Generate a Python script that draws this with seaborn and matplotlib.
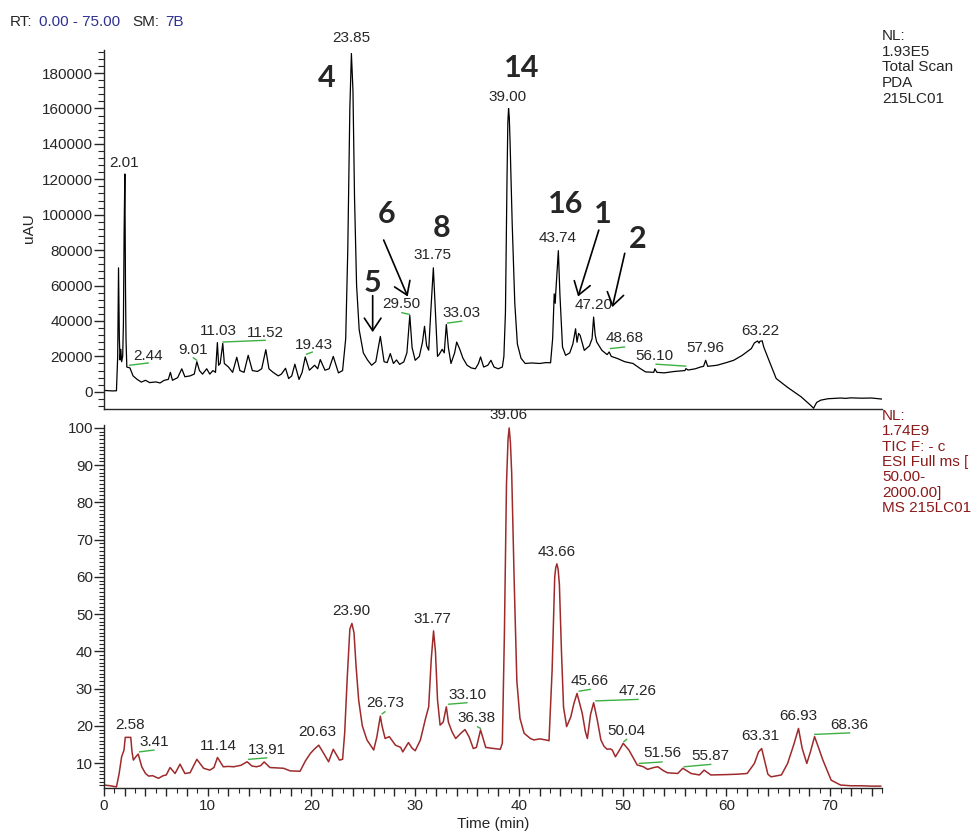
import numpy as np
import pandas as pd
import matplotlib.pyplot as plt
import seaborn as sns
from matplotlib.ticker import MultipleLocator, FuncFormatter

# Trace PDA (panneau du haut), temps en min / intensité en uAU
pda_time = [0.0, 0.8, 1.2, 1.32, 1.4, 1.48, 1.55, 1.62, 1.7, 1.8, 1.87, 1.94, 2.01, 2.07, 2.12, 2.2,
            2.5, 2.8, 3.2, 3.6, 4.0, 4.4, 5.0, 5.4, 5.8, 6.2, 6.4, 6.6, 7.1, 7.5, 7.8, 8.3, 8.7, 8.95,
            9.2, 9.5, 9.9, 10.2, 10.5, 10.75, 10.93, 11.05, 11.2, 11.45, 11.6, 12.0, 12.4, 12.8, 13.1,
            13.5, 13.9, 14.3, 14.8, 15.2, 15.6, 15.9, 16.3, 16.8, 17.1, 17.5, 17.8, 18.1, 18.4, 18.8,
            19.1, 19.4, 19.8, 20.3, 20.6, 20.85, 21.3, 21.7, 22.1, 22.6, 23.0, 23.3, 23.5, 23.7, 23.85,
            24.0, 24.15, 24.35, 24.6, 25.0, 25.4, 25.8, 26.2, 26.64, 27.0, 27.3, 27.6, 27.9, 28.2, 28.5,
            28.9, 29.2, 29.48, 29.7, 30.0, 30.4, 30.7, 30.9, 31.1, 31.3, 31.5, 31.75, 31.95, 32.15, 32.3,
            32.6, 32.8, 33.0, 33.2, 33.45, 33.8, 34.0, 34.3, 34.6, 35.0, 35.4, 35.8, 36.1, 36.3, 36.6,
            37.0, 37.3, 37.6, 38.0, 38.4, 38.55, 38.7, 38.85, 38.93, 39.0, 39.07, 39.15, 39.35, 39.6,
            39.85, 40.2, 40.6, 41.2, 42.0, 42.6, 43.05, 43.25, 43.4, 43.5, 43.55, 43.8, 43.95, 44.2,
            44.5, 44.9, 45.2, 45.46, 45.6, 45.75, 45.9, 46.3, 46.8, 47.05, 47.2, 47.35, 47.5, 48.0, 48.5,
            48.7, 48.9, 49.5, 50.2, 51.0, 51.6, 52.2, 53.0, 53.1, 53.3, 54.0, 55.0, 56.0, 56.1, 56.3,
            57.0, 57.5, 57.8, 58.0, 58.2, 59.1, 60.0, 60.7, 61.5, 62.4, 62.7, 63.0, 63.15, 63.22, 63.45,
            63.6, 64.1, 64.8, 65.9, 67.2, 68.1, 68.4, 68.7, 69.1, 69.8, 71.0, 71.5, 72.0, 73.0, 74.0,
            75.0]
pda_uau = [800, 500, 600, 20000, 70000, 30000, 18000, 24000, 17000, 20000, 38000, 90000, 123000, 60000,
           30000, 14000, 13500, 9000, 7000, 5500, 6500, 5200, 5600, 5000, 6500, 7000, 11000, 6500, 8000,
           13000, 8500, 9000, 10000, 17000, 12000, 10000, 13000, 10000, 12000, 11000, 27800, 15000,
           16000, 27300, 16000, 14000, 11000, 19500, 12000, 11000, 20600, 12000, 11500, 13000, 23800,
           13000, 11000, 9000, 10000, 13300, 7500, 9000, 15600, 7000, 11000, 19700, 12200, 15000, 13000,
           18200, 12200, 13000, 20000, 10700, 12000, 30000, 80000, 160000, 191000, 170000, 110000,
           60000, 35000, 22000, 18000, 15000, 17000, 31300, 17000, 16500, 21600, 16000, 18000, 15500,
           16900, 22000, 43100, 25000, 17800, 20000, 28000, 37000, 26000, 23500, 45000, 70000, 45000,
           20000, 21000, 24000, 22000, 38000, 25000, 16000, 22000, 28100, 24000, 19000, 15000, 13500,
           13000, 16000, 19700, 14000, 15000, 17800, 14000, 13000, 14000, 20000, 45000, 120000, 152000,
           160000, 155000, 140000, 95000, 50000, 27000, 19000, 16000, 16300, 16000, 16500, 16400, 30000,
           55300, 50000, 56000, 79700, 55000, 25300, 20600, 22000, 27000, 35600, 28000, 33000, 31900,
           23400, 26000, 30000, 42200, 32000, 28100, 23400, 21000, 22500, 20000, 18800, 17000, 16000,
           13500, 11250, 11000, 13000, 11000, 10700, 11500, 12000, 13100, 12300, 13000, 14000, 14400,
           17800, 14400, 15000, 16500, 17800, 20500, 24400, 27600, 28700, 27500, 28500, 28800, 25300,
           17800, 7500, 2500, -2800, -7500, -9300, -6000, -4700, -3900, -3500, -3700, -3400, -3600,
           -3500, -4100]

# Trace TIC MS (panneau du bas), abondance relative en %
tic_time = [0.0, 0.6, 1.2, 1.45, 1.7, 1.93, 2.05, 2.58, 2.7, 2.83, 3.1, 3.3, 3.64, 4.0, 4.3, 4.7, 5.25,
            5.7, 6.0, 6.37, 6.85, 7.33, 7.8, 8.3, 8.95, 9.6, 10.2, 10.6, 10.94, 11.5, 12.0, 12.5, 13.2,
            13.8, 14.26, 14.7, 15.1, 15.44, 16.0, 16.6, 17.3, 17.95, 18.9, 19.4, 19.9, 20.3, 20.7, 21.2,
            21.65, 22.1, 22.45, 22.7, 23.0, 23.2, 23.45, 23.7, 23.9, 24.1, 24.3, 24.55, 24.9, 25.35,
            26.0, 26.3, 26.64, 26.8, 27.1, 27.5, 28.1, 28.6, 28.8, 29.35, 29.7, 30.0, 30.5, 31.0, 31.3,
            31.55, 31.77, 31.95, 32.15, 32.4, 32.7, 33.0, 33.2, 33.55, 33.9, 34.4, 34.8, 35.2, 35.6,
            35.9, 36.3, 36.8, 37.3, 38.2, 38.4, 38.6, 38.8, 38.95, 39.06, 39.18, 39.3, 39.55, 39.8, 40.1,
            40.5, 41.1, 41.45, 42.0, 42.6, 42.9, 43.2, 43.45, 43.55, 43.66, 43.78, 43.9, 44.1, 44.3,
            44.6, 45.0, 45.3, 45.6, 46.1, 46.4, 46.6, 46.9, 47.2, 47.55, 47.9, 48.2, 48.5, 48.8, 49.0,
            49.3, 49.7, 50.05, 50.6, 51.0, 51.4, 52.0, 52.4, 53.0, 53.4, 53.9, 54.3, 55.3, 55.8, 56.6,
            57.0, 57.4, 57.85, 58.5, 60.0, 61.0, 62.0, 62.7, 63.1, 63.4, 63.7, 64.0, 64.3, 65.3, 65.9,
            66.5, 66.95, 67.3, 67.75, 68.1, 68.5, 68.9, 69.3, 70.1, 71.0, 72.0, 73.0, 74.0, 74.9]
tic_rel = [4.1, 3.9, 3.6, 7, 11.7, 13.5, 16.9, 16.9, 13, 10.8, 11.8, 12.4, 9.0, 7.2, 6.5, 6.6, 5.9,
           6.6, 6.8, 8.8, 7.2, 9.7, 7.2, 7.4, 11.0, 8.6, 8.1, 8.8, 11.5, 9.0, 9.1, 9.0, 9.4, 10.35,
           9.2, 9.0, 9.3, 10.3, 8.8, 8.7, 8.6, 7.9, 7.8, 10.5, 12.6, 13.8, 14.8, 12.5, 10.35, 13.7, 12.0,
           10.8, 11.0, 18, 33, 46, 47.5, 45, 36, 26.9, 20, 16.2, 13.5, 17, 22.6, 20, 16.6, 17.1, 14.8,
           14.2, 13.0, 15.5, 14, 13.3, 16.2, 22.0, 25.1, 38, 45.5, 40, 27, 20.2, 21, 25.1, 21, 18.4,
           16.6, 18.0, 19.0, 17, 13.9, 14.2, 18.9, 14.2, 14, 13.7, 15.3, 45, 85, 97, 100, 96, 88, 58,
           32, 22, 18, 16.6, 16.2, 16.5, 16.2, 16, 35, 60, 62.5, 63.5, 62, 58, 40, 25, 19.8, 22.4, 26,
           28.7, 23.4, 18.5, 16.6, 23, 26.2, 21.6, 16.2, 14.5, 13.7, 13.8, 13.5, 11.7, 13.5, 15.3, 13.5,
           11.5, 9.5, 9.0, 8.3, 8.8, 9.0, 8.0, 7.4, 7.2, 8.6, 7.2, 7.0, 6.8, 8.1, 6.8, 6.9, 7.0, 7.2,
           9.9, 13, 13.9, 10.5, 7.0, 6.3, 6.8, 9.9, 15, 19.3, 14, 9.9, 13, 17.1, 14, 10.8, 5.4, 4.1,
           3.9, 3.9, 3.8, 3.8]

# Étiquettes des pics (texte, temps, hauteur du bas du texte)
pda_labels = ["23.85", "2.01", "2.44", "9.01", "11.03", "11.52", "19.43", "29.50", "31.75",
              "33.03", "39.00", "43.74", "47.20", "48.68", "56.10", "57.96", "63.22"]
pda_label_t = [23.8, 1.93, 4.28, 8.6, 11.0, 15.6, 20.2, 28.67, 31.7, 34.5, 38.93, 43.7, 47.17,
               50.2, 53.1, 58.0, 63.25]
pda_label_y = [195600, 125300, 16300, 19700, 30600, 29500, 22500, 45600, 73100, 40300, 162600,
               82900, 45000, 26300, 16300, 20600, 30600]

tic_labels = ["39.06", "2.58", "3.41", "11.14", "13.91", "20.63", "23.90", "26.73", "31.77", "33.10",
              "36.38", "43.66", "45.66", "47.26", "50.04", "51.56", "55.87", "63.31", "66.93", "68.36"]
tic_label_t = [39.03, 2.5, 4.8, 11.0, 15.7, 20.6, 23.8, 27.1, 31.7, 35.0, 35.9, 43.6, 46.85, 51.4,
               50.4, 53.8, 58.5, 63.3, 66.95, 71.85]
tic_label_y = [101.7, 18.4, 13.9, 12.8, 11.7, 16.4, 48.9, 24.2, 46.8, 26.5, 20.2, 64.7, 30.1, 27.4,
               16.6, 10.8, 9.9, 15.3, 20.7, 18.4]

# Petits traits verts sous certaines étiquettes (t0, y0, t1, y1)
pda_green = [(2.45, 15000, 4.28, 16300), (8.6, 19300, 8.95, 17800), (11.45, 28100, 15.55, 29100),
             (19.5, 21200, 20.1, 22500), (28.7, 44700, 29.45, 43700), (33.1, 38800, 34.5, 39900),
             (48.8, 24400, 50.2, 25300), (53.2, 15600, 56.1, 14500)]
tic_green = [(3.4, 13.0, 4.83, 13.5), (13.93, 11.0, 15.7, 11.4), (26.8, 23.2, 27.1, 23.8),
             (33.2, 25.8, 35.0, 26.2), (36.0, 19.75, 36.3, 19.3), (45.8, 29.3, 46.9, 29.8),
             (47.4, 26.7, 51.5, 27.1), (50.1, 15.7, 50.4, 16.4), (51.6, 9.9, 53.8, 10.3),
             (55.9, 9.0, 58.5, 9.65), (68.5, 17.7, 71.9, 18.1)]

# Numéros des composés en gras et flèches
cmp_labels = ["4", "14", "16", "1", "2", "5", "6", "8"]
cmp_t = [21.5, 40.3, 44.5, 48.1, 51.4, 25.9, 27.2, 32.5]
cmp_y = [177000, 182600, 106100, 100500, 86500, 61700, 100500, 92600]
arrows = [((25.9, 54300), (25.9, 33700)), ((26.96, 85700), (29.28, 53800)),
          ((47.7, 91300), (45.7, 53800)), ((50.2, 78200), (49.0, 47800))]

# --- Figure ---
sns.set_style("ticks")
plt.rcParams['font.family'] = ['Liberation Sans', 'DejaVu Sans']
plt.rcParams['font.size'] = 11

GREEN = '#3cb043'
RED_LINE = '#9e2a2b'
RED_TXT = '#8b1a1a'
BLUE_TXT = '#2e3192'

fig = plt.figure(figsize=(9.74, 8.32), dpi=100)
ax1 = fig.add_axes([104 / 974, 1 - 409 / 832, 778 / 974, 359 / 832])
ax2 = fig.add_axes([104 / 974, 1 - 788 / 832, 778 / 974, 363 / 832])

df_pda = pd.DataFrame({'t': pda_time, 'v': pda_uau})
df_tic = pd.DataFrame({'t': tic_time, 'v': tic_rel})
sns.lineplot(data=df_pda, x='t', y='v', ax=ax1, color='black', lw=0.9, sort=False, estimator=None)
sns.lineplot(data=df_tic, x='t', y='v', ax=ax2, color=RED_LINE, lw=1.1, sort=False, estimator=None)

for ax in (ax1, ax2):
    ax.set_xlim(0, 75)
    sns.despine(ax=ax)
    ax.spines['left'].set_linewidth(1.0)
    ax.spines['bottom'].set_linewidth(1.0)
    ax.set_xlabel('')
    ax.set_ylabel('')

# panneau du haut
ax1.set_ylim(-9700, 193000)
ax1.set_xticks([])
ax1.yaxis.set_major_locator(MultipleLocator(20000))
ax1.yaxis.set_minor_locator(MultipleLocator(4000))
ax1.yaxis.set_major_formatter(FuncFormatter(lambda v, _: f"{v:.0f}"))
ax1.tick_params(axis='y', which='major', length=7, width=1, pad=1, labelsize=11)
ax1.tick_params(axis='y', which='minor', length=4, width=0.8)
ax1.set_ylabel('uAU', fontsize=11)
ax1.yaxis.set_label_coords(-0.087, 0.504)

# panneau du bas
ax2.set_ylim(3.3, 100.8)
ax2.yaxis.set_major_locator(MultipleLocator(10))
ax2.yaxis.set_minor_locator(MultipleLocator(1))
ax2.yaxis.set_major_formatter(FuncFormatter(lambda v, _: f"{v:.0f}"))
ax2.xaxis.set_major_locator(MultipleLocator(2))
ax2.xaxis.set_minor_locator(MultipleLocator(1))
ax2.xaxis.set_major_formatter(FuncFormatter(lambda v, _: f"{v:.0f}" if v % 10 == 0 else ""))
ax2.tick_params(axis='both', which='major', length=6, width=1, pad=2, labelsize=11)
ax2.tick_params(axis='y', which='major', length=7, pad=1)
ax2.tick_params(axis='both', which='minor', length=3.5, width=0.8)
ax2.set_xlabel('Time (min)', fontsize=11)
ax2.xaxis.set_label_coords(0.5, -0.081)

# étiquettes des pics
for txt, t, y in zip(pda_labels, pda_label_t, pda_label_y):
    ax1.text(t, y, txt, ha='center', va='bottom', fontsize=11)
for txt, t, y in zip(tic_labels, tic_label_t, tic_label_y):
    ax2.text(t, y, txt, ha='center', va='bottom', fontsize=11)
for t0, y0, t1, y1 in pda_green:
    ax1.plot([t0, t1], [y0, y1], color=GREEN, lw=1)
for t0, y0, t1, y1 in tic_green:
    ax2.plot([t0, t1], [y0, y1], color=GREEN, lw=1)

for txt, t, y in zip(cmp_labels, cmp_t, cmp_y):
    ax1.text(t, y, txt, ha='center', va='center', fontsize=22, fontweight='bold',
             family=['Lato', 'DejaVu Sans'])
for tail, head in arrows:
    ax1.annotate('', xy=head, xytext=tail,
                 arrowprops=dict(arrowstyle='->,head_length=0.9,head_width=0.6', mutation_scale=10,
                                 lw=1.2, color='black', shrinkA=0, shrinkB=0))

# en-tête et légendes de droite
fig.text(10 / 974, 1 - 21.5 / 832, "RT:", va='center', fontsize=11)
fig.text(39 / 974, 1 - 21.5 / 832, "0.00 - 75.00", va='center', fontsize=11, color=BLUE_TXT)
fig.text(132 / 974, 1 - 21.5 / 832, "SM:", va='center', fontsize=11)
fig.text(165 / 974, 1 - 21.5 / 832, "7B", va='center', fontsize=11, color=BLUE_TXT)

fig.text(882 / 974, 1 - 29 / 832, "NL:\n1.93E5\nTotal Scan\nPDA\n215LC01",
         va='top', ha='left', fontsize=11, linespacing=1.15)
fig.text(882 / 974, 1 - 409 / 832, "NL:\n1.74E9\nTIC F: - c\nESI Full ms [\n50.00-\n2000.00]\nMS 215LC01",
         va='top', ha='left', fontsize=11, linespacing=1.12, color=RED_TXT)

fig.savefig('out.png', dpi=100)
